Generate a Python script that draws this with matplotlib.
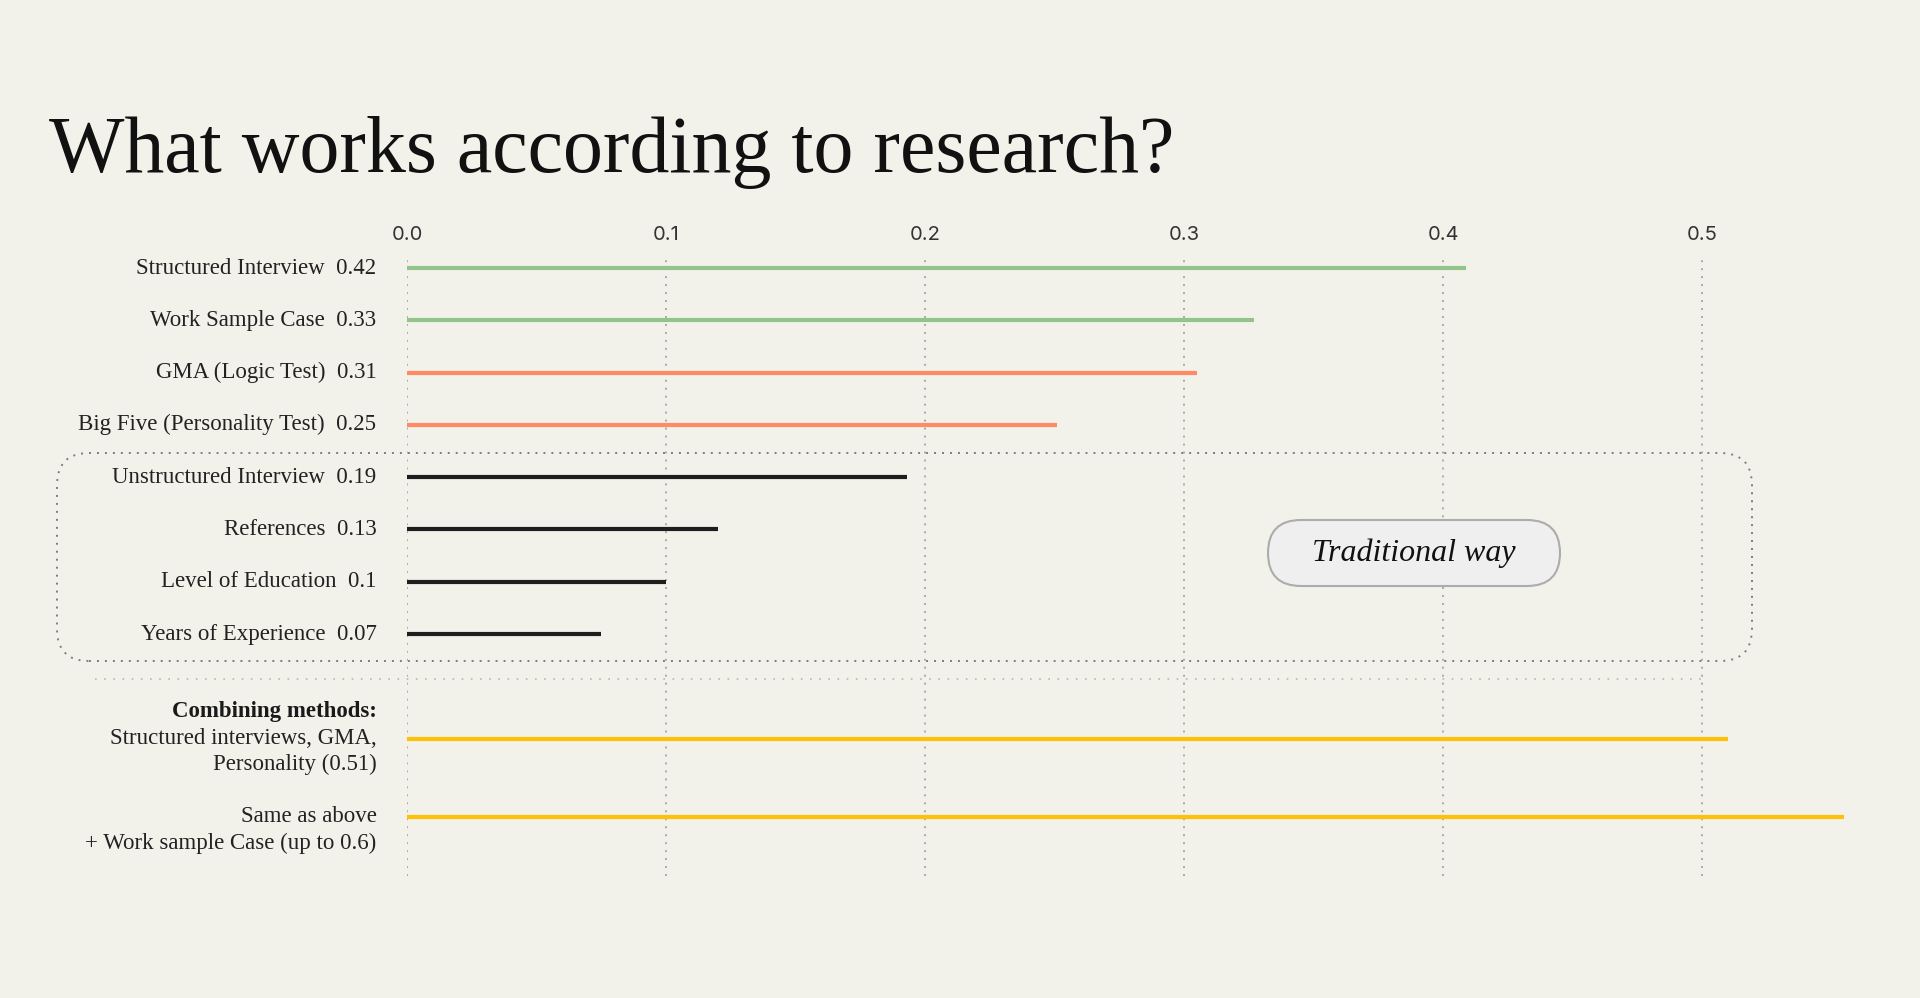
import matplotlib.pyplot as plt
from matplotlib.patches import FancyBboxPatch
from matplotlib.lines import Line2D
from matplotlib.transforms import IdentityTransform

# data
methods = ["Structured Interview", "Work Sample Case", "GMA (Logic Test)",
           "Big Five (Personality Test)", "Unstructured Interview", "References",
           "Level of Education", "Years of Experience"]
scores = ["0.42", "0.33", "0.31", "0.25", "0.19", "0.13", "0.1", "0.07"]
lengths = [0.409, 0.327, 0.305, 0.251, 0.193, 0.120, 0.100, 0.075]
colors = ["#93c48b", "#93c48b", "#ff8a65", "#ff8a65",
          "#1e1e1e", "#1e1e1e", "#1e1e1e", "#1e1e1e"]

combo_lengths = [0.51, 0.555]
combo_labels = [["Structured interviews, GMA,", "Personality (0.51)"],
                ["Same as above", "+ Work sample Case (up to 0.6)"]]
combo_color = "#ffc107"

xticks = [0.0, 0.1, 0.2, 0.3, 0.4, 0.5]
xtick_labels = ["0.0", "0.1", "0.2", "0.3", "0.4", "0.5"]

bg = "#f2f2eb"
plt.rcParams['font.family'] = ['Liberation Serif', 'DejaVu Serif']

W, H = 1920, 998
fig = plt.figure(figsize=(W / 100, H / 100), dpi=100, facecolor=bg)
ax = fig.add_axes([0.2120, 0.1222, 0.7824, 0.6223])
ax.set_facecolor(bg)
for s in ax.spines.values():
    s.set_visible(False)

ax.set_xlim(0, 0.58)
ax.set_ylim(11.63, -0.25)
ax.set_yticks([])
ax.set_xticks(xticks)
ax.set_xticklabels(xtick_labels, fontfamily='Inter')
ax.xaxis.tick_top()
ax.tick_params(axis='x', length=0, pad=8, labelsize=14.5, labelcolor='#333333')
ax.grid(axis='x', color='#ababab', linestyle=(0, (1, 3.1)), linewidth=1.4)
ax.set_axisbelow(True)

# main rows
rows = list(range(len(methods)))
ax.hlines(rows, 0, lengths, colors=colors, linewidth=3, capstyle='butt')
for y, m, s in zip(rows, methods, scores):
    ax.annotate(m + "  " + s, xy=(0, y), xytext=(-22, 0), textcoords='offset points',
                ha='right', va='center', fontsize=16.5, color='#222222')

# combined rows
combo_rows = [9.0, 10.5]
ax.hlines(combo_rows, 0, combo_lengths, colors=combo_color, linewidth=3, capstyle='butt')
ax.annotate("Combining methods:", xy=(0, combo_rows[0] - 0.52), xytext=(-22, 0),
            textcoords='offset points', ha='right', va='center', fontsize=16.5,
            fontweight='bold', color='#1a1a1a')
for y, lines in zip(combo_rows, combo_labels):
    for i, t in enumerate(lines):
        ax.annotate(t, xy=(0, y + 0.5 * i), xytext=(-22, 0), textcoords='offset points',
                    ha='right', va='center', fontsize=16.5, color='#222222')

# decorations in pixel space
ident = IdentityTransform()
box = FancyBboxPatch((57, H - 661), 1752 - 57, 661 - 453,
                     boxstyle="round,pad=0,rounding_size=32", transform=ident,
                     fill=False, edgecolor='#7d7d7d', linestyle=(0, (1, 3.1)), linewidth=1.4)
fig.add_artist(box)

sep = Line2D([95, 1702], [H - 679, H - 679], transform=ident, color='#b5b5b5',
             linestyle=(0, (1, 4.5)), linewidth=1.2)
fig.add_artist(sep)

pill = FancyBboxPatch((1268, H - 586), 292, 66,
                      boxstyle="round,pad=0,rounding_size=33", transform=ident,
                      facecolor='#efefef', edgecolor='#acacac', linewidth=1.5)
fig.add_artist(pill)
fig.text(1414 / W, 1 - 553 / H, "Traditional way", ha='center', va='center',
         fontsize=23, fontstyle='italic', color='#111111')

fig.text(49 / W, 1 - 172 / H, "What works according to research?", ha='left',
         va='baseline', fontsize=57.5, color='#111111')

fig.savefig("out.png", dpi=100, facecolor=bg)
